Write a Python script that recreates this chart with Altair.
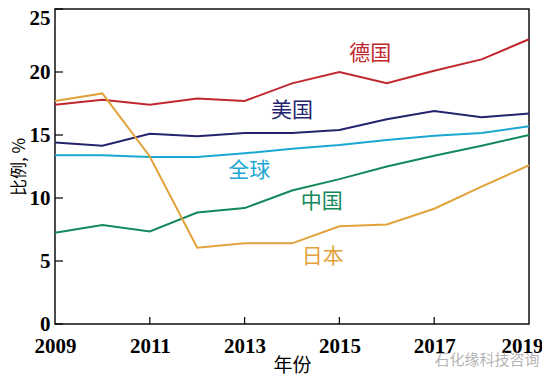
import altair as alt
import pandas as pd

years = [2009, 2010, 2011, 2012, 2013, 2014, 2015, 2016, 2017, 2018, 2019]
germany = [17.4, 17.8, 17.4, 17.9, 17.7, 19.1, 20.0, 19.1, 20.1, 21.0, 22.6]
usa = [14.4, 14.15, 15.1, 14.9, 15.15, 15.15, 15.4, 16.25, 16.9, 16.4, 16.7]
world = [13.4, 13.4, 13.25, 13.25, 13.55, 13.9, 14.2, 14.6, 14.95, 15.15, 15.7]
china = [7.25, 7.85, 7.35, 8.85, 9.2, 10.6, 11.5, 12.5, 13.35, 14.15, 15.0]
japan = [17.7, 18.3, 13.3, 6.05, 6.4, 6.4, 7.75, 7.9, 9.15, 10.9, 12.6]

series_names = ["德国", "美国", "全球", "中国", "日本"]
series_values = [germany, usa, world, china, japan]
series_colors = ["#c1272f", "#24246e", "#1ba6d3", "#13895a", "#e1a23a"]
label_colors = ["#c1272f", "#24246e", "#2a9cc6", "#13895a", "#e1a23a"]
label_x = [2015.65, 2014.0, 2013.1, 2014.63, 2014.65]
label_y = [21.4, 16.9, 12.15, 9.7, 5.35]

x_ticks = [2009, 2011, 2013, 2015, 2017, 2019]
y_ticks = [0, 5, 10, 15, 20, 25]
inner_x_ticks = [2011, 2013, 2015, 2017]

W, H = 474, 315

rows = []
for name, vals in zip(series_names, series_values):
    for yr, v in zip(years, vals):
        rows.append({"year": yr, "value": v, "series": name})
df = pd.DataFrame(rows)

labels_df = pd.DataFrame({"series": series_names, "x": label_x, "y": label_y})

xscale = alt.Scale(domain=[2009, 2019], nice=False, zero=False)
yscale = alt.Scale(domain=[0, 25], nice=False)
color = alt.Color("series:N", scale=alt.Scale(domain=series_names, range=series_colors), legend=None)

serif = "Liberation Serif"
cjk = "Noto Sans CJK SC"

lines = alt.Chart(df).mark_line(strokeWidth=2).encode(
    x=alt.X("year:Q", scale=xscale,
            axis=alt.Axis(values=x_ticks, format="d", domain=False, ticks=False, grid=False,
                          labelFont=serif, labelFontSize=21, labelColor="#000", labelPadding=11,
                          labelFontWeight="bold", labelFlush=False,
                          labelOffset={"condition": {"test": "datum.value == 2019", "value": -7}, "value": 0},
                          title="年份", titleFont=cjk, titleFontSize=19, titleFontWeight="normal",
                          titleColor="#000", titleY=41, titleBaseline="middle")),
    y=alt.Y("value:Q", scale=yscale,
            axis=alt.Axis(values=y_ticks, domain=False, ticks=False, grid=False,
                          labelFont=serif, labelFontSize=21, labelColor="#000", labelPadding=5,
                          labelFontWeight="bold", labelFlush=False,
                          labelOffset={"condition": {"test": "datum.value == 25", "value": 9}, "value": 0},
                          title="比例, %", titleFont=cjk, titleFontSize=17, titleFontWeight="normal",
                          titleColor="#000", titleX=-36, titleY=H / 2, titleAngle=-90,
                          titleBaseline="middle", titleAlign="center")),
    color=color,
    detail="series:N",
)

texts = alt.Chart(labels_df).mark_text(font=cjk, fontSize=21, align="center", baseline="middle").encode(
    x=alt.X("x:Q", scale=xscale),
    y=alt.Y("y:Q", scale=yscale),
    color=alt.Color("series:N", scale=alt.Scale(domain=series_names, range=label_colors), legend=None),
    text="series:N",
)

xt = alt.Chart(pd.DataFrame({"t": inner_x_ticks})).mark_rule(color="#000", strokeWidth=1.2).encode(
    x=alt.X("t:Q", scale=xscale), y=alt.value(H), y2=alt.value(H - 7)
)
yt = alt.Chart(pd.DataFrame({"t": y_ticks})).mark_rule(color="#000", strokeWidth=1.2).encode(
    y=alt.Y("t:Q", scale=yscale), x=alt.value(0), x2=alt.value(8)
)

wm = alt.Chart(pd.DataFrame({"t": ["石化缘科技咨询"]})).mark_text(
    font=cjk, fontSize=15, color="#b5b5b5", align="center", baseline="middle"
).encode(text="t:N", x=alt.value(432), y=alt.value(351))

chart = alt.layer(lines, texts, xt, yt, wm).properties(
    width=W, height=H,
    background="white",
    autosize=alt.AutoSizeParams(type="none"),
    padding={"left": 47, "top": 1, "right": 13, "bottom": 50},
).configure_view(stroke="#111", strokeWidth=1.5)

chart.save("out.html", embed_options={"renderer": "svg", "actions": False})
